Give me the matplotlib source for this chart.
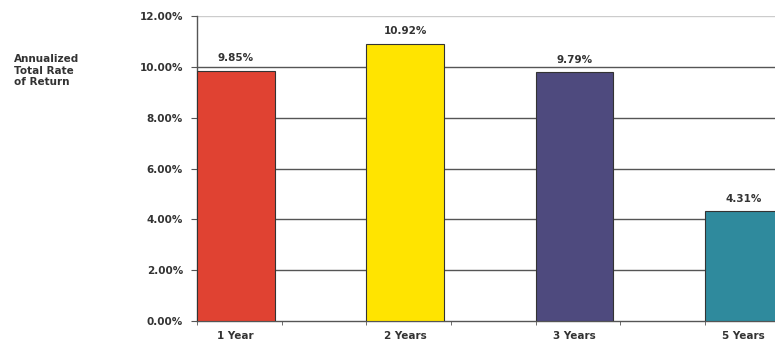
import matplotlib.pyplot as plt
import numpy as np

plt.rcParams['font.family'] = ['DejaVu Sans']

periods = ['1 Year', '2 Years', '3 Years', '5 Years']
returns = [9.85, 10.92, 9.79, 4.31]
bar_colors = ['#E04232', '#FFE400', '#4E4A7E', '#2F8A9D']
yticks = [0, 2, 4, 6, 8, 10, 12]

fig = plt.figure(figsize=(7.75, 3.5), dpi=100)
ax = fig.add_axes([0.254, 0.083, 0.746, 0.871])

x = np.arange(len(periods))
w = 0.46
ax.bar(x, returns, width=w, color=bar_colors, edgecolor='#333333',
       linewidth=0.8, zorder=3)

for xi, v in zip(x, returns):
    ax.text(xi, v + 0.3, f'{v:.2f}%', ha='center', va='bottom',
            fontsize=7.5, fontweight='bold', color='#333333')

ax.set_xlim(-w / 2, 3.184)
ax.set_ylim(0, 12)
ax.set_yticks(yticks)
ax.set_yticklabels([f'{t:.2f}%' for t in yticks])
for t in yticks[1:-1]:
    ax.axhline(t, color='#555555', linewidth=1.0, zorder=1)
ax.axhline(12, color='#cccccc', linewidth=1.0, zorder=1)

ax.set_xticks(x)
ax.set_xticklabels(periods)
# small marks every half category, starting at the first bar's left edge
ax.set_xticks(np.arange(-w / 2, 3.2, 0.5), minor=True)
ax.tick_params(axis='x', which='major', length=0, pad=7)
ax.tick_params(axis='x', which='minor', length=3, color='#555555')
ax.tick_params(axis='y', length=4, color='#555555', pad=6)
for lbl in ax.get_xticklabels() + ax.get_yticklabels():
    lbl.set_fontsize(7.5)
    lbl.set_fontweight('bold')
    lbl.set_color('#333333')

for side in ['top', 'right']:
    ax.spines[side].set_visible(False)
ax.spines['left'].set_color('#555555')
ax.spines['bottom'].set_color('#555555')
ax.spines['left'].set_linewidth(1.0)
ax.spines['bottom'].set_linewidth(1.0)

fig.text(0.018, 0.845, 'Annualized\nTotal Rate\nof Return', ha='left', va='top',
         fontsize=7.5, fontweight='bold', color='#333333', linespacing=1.2)

fig.savefig('out.png', dpi=100)
